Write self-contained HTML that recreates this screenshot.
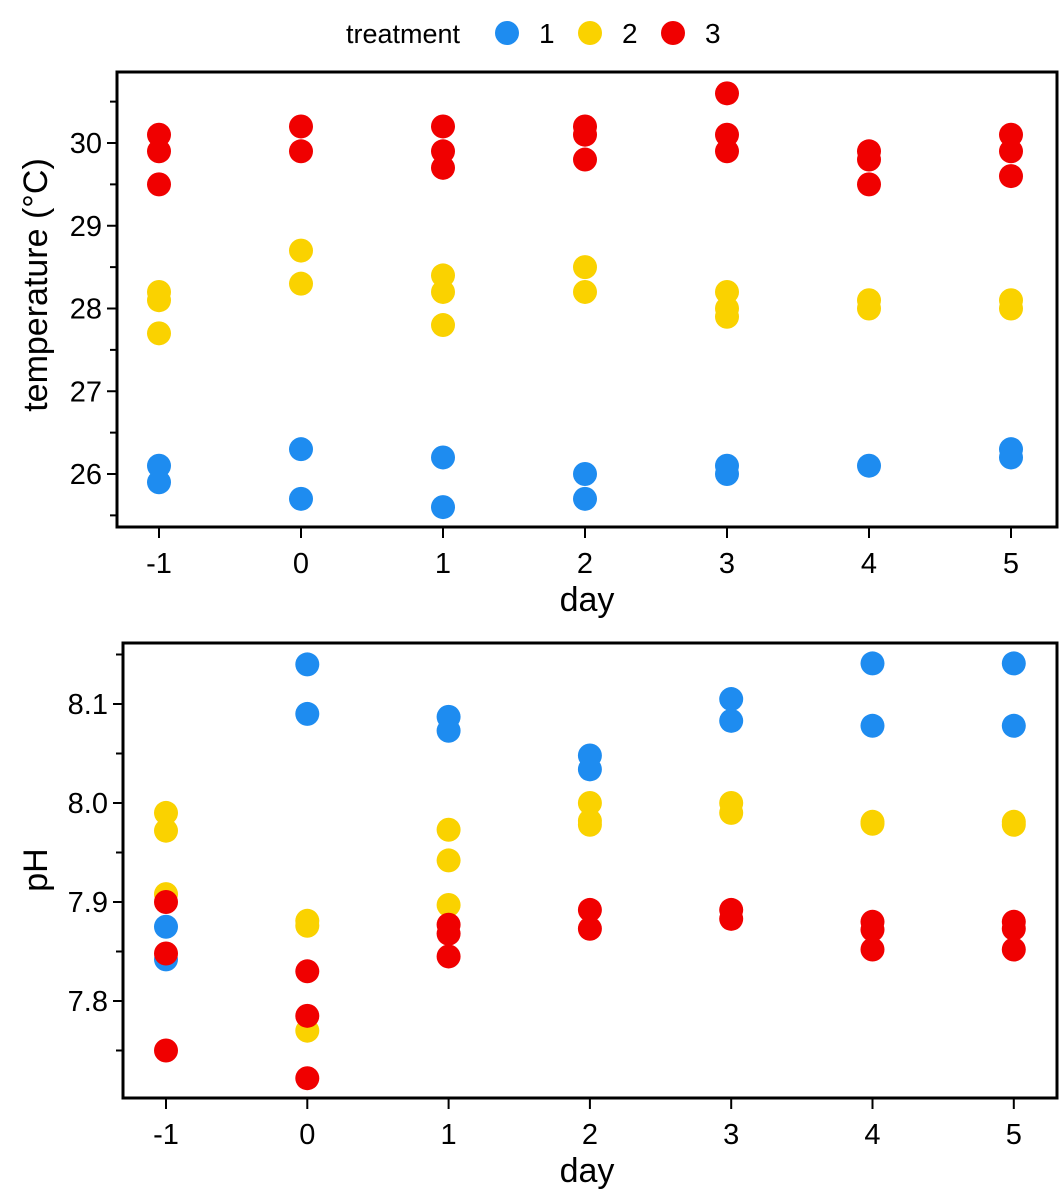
<!DOCTYPE html>
<html><head><meta charset="utf-8">
<style>
html,body{margin:0;padding:0;background:#fff;}
svg{display:block;font-family:"Liberation Sans",Arial,sans-serif;}
</style></head>
<body>
<svg id="chart" width="1063" height="1201" viewBox="0 0 1063 1201" xmlns="http://www.w3.org/2000/svg">
  <g>
    <text x="346" y="43" font-size="27" fill="#000">treatment</text>
    <circle cx="507" cy="33" r="12" fill="#1e8cf0"/>
    <text x="539" y="43" font-size="28" fill="#000">1</text>
    <circle cx="590" cy="33" r="12" fill="#fad200"/>
    <text x="622" y="43" font-size="28" fill="#000">2</text>
    <circle cx="673" cy="33" r="12" fill="#f00000"/>
    <text x="705" y="43" font-size="28" fill="#000">3</text>
  </g>
  <g id="top"></g>
  <g id="bottom"></g>
</svg>
<script>
// ---- data ----
const days = [-1, 0, 1, 2, 3, 4, 5];
const tempT1 = [[26.1,25.9],[26.3,25.7],[26.2,25.6],[26.0,25.7],[26.1,26.0],[26.1],[26.3,26.2]];
const tempT2 = [[28.2,28.1,27.7],[28.7,28.3],[28.4,28.2,27.8],[28.5,28.2],[28.2,28.0,27.9],[28.1,28.0],[28.1,28.0]];
const tempT3 = [[30.1,29.9,29.5],[30.2,29.9],[30.2,29.9,29.7],[30.2,30.1,29.8],[30.6,30.1,29.9],[29.9,29.8,29.5],[30.1,29.9,29.6]];
const phT1 = [[7.875,7.842],[8.14,8.09],[8.087,8.073],[8.048,8.034],[8.105,8.083],[8.141,8.078],[8.141,8.078]];
const phT2 = [[7.99,7.972,7.908],[7.881,7.876,7.77],[7.973,7.942,7.897],[8.0,7.982,7.978],[8.0,7.99],[7.981,7.979],[7.981,7.978]];
const phT3 = [[7.90,7.848,7.75],[7.83,7.785,7.722],[7.877,7.868,7.845],[7.892,7.873],[7.892,7.883],[7.88,7.872,7.852],[7.88,7.873,7.852]];
const tempMajor = [26, 27, 28, 29, 30];
const tempMinor = [25.5, 26.5, 27.5, 28.5, 29.5, 30.5];
const phMajor = [7.8, 7.9, 8.0, 8.1];
const phMinor = [7.75, 7.85, 7.95, 8.05, 8.15];
const colors = ['#1e8cf0', '#fad200', '#f00000'];

const NS = 'http://www.w3.org/2000/svg';
function mk(parent, tag, attrs, txt) {
  const e = document.createElementNS(NS, tag);
  for (const k in attrs) e.setAttribute(k, attrs[k]);
  if (txt !== undefined) e.textContent = txt;
  parent.appendChild(e);
  return e;
}

function panel(g, cfg) {
  const x = d => cfg.x0 + (d - days[0]) * cfg.dx;
  const y = v => cfg.yRef - (v - cfg.vRef) * cfg.py;
  const frame = mk(g, 'rect', {x: cfg.left, y: cfg.top, width: 1057 - cfg.left, height: cfg.bottom - cfg.top, fill: 'none', stroke: '#000', 'stroke-width': 3});
  
  
  cfg.major.forEach(v => {
    const t = mk(g, 'line', {x1: cfg.left - 10, x2: cfg.left, y1: y(v), y2: y(v), stroke: '#000', 'stroke-width': 2});
    
    
    const l = mk(g, 'text', {x: cfg.left - 15, y: y(v) + 10, 'font-size': 29, 'text-anchor': 'end'}, cfg.fmt(v));
    
    
  });
  cfg.minor.forEach(v => {
    const t = mk(g, 'line', {x1: cfg.left - 7, x2: cfg.left, y1: y(v), y2: y(v), stroke: '#000', 'stroke-width': 2});
    
    
  });
  days.forEach(d => {
    const t = mk(g, 'line', {x1: x(d), x2: x(d), y1: cfg.bottom, y2: cfg.bottom + 11, stroke: '#000', 'stroke-width': 2});
    
    
    const l = mk(g, 'text', {x: x(d), y: cfg.bottom + 46, 'font-size': 29, 'text-anchor': 'middle'}, String(d));
    
    
  });
  const xt = mk(g, 'text', {x: 587, y: cfg.bottom + 84, 'font-size': 34, 'text-anchor': 'middle'}, 'day');
  
  
  const yt = mk(g, 'text', {x: 0, y: 0, 'font-size': 34, 'text-anchor': 'middle', transform: 'translate(47,' + cfg.ytY + ') rotate(-90)'}, cfg.ytitle);
  
  
  cfg.series.forEach((s, si) => {
    s.forEach((vals, di) => {
      vals.forEach(v => {
        const c = mk(g, 'circle', {cx: x(days[di]), cy: y(v), r: 12, fill: colors[si]});
        
        
      });
    });
  });
}

panel(document.getElementById('top'), {
  name: 'temperature', left: 117, top: 72, bottom: 527, x0: 159, dx: 142,
  yRef: 143, vRef: 30, py: 82.75, major: tempMajor, minor: tempMinor,
  fmt: v => String(v), ytitle: 'temperature (°C)', ytY: 285,
  series: [tempT1, tempT2, tempT3]
});
panel(document.getElementById('bottom'), {
  name: 'ph', left: 123, top: 643, bottom: 1098, x0: 166, dx: 141.3,
  yRef: 803, vRef: 8.0, py: 990, major: phMajor, minor: phMinor,
  fmt: v => v.toFixed(1), ytitle: 'pH', ytY: 870,
  series: [phT1, phT2, phT3]
});
</script>
</body></html>
